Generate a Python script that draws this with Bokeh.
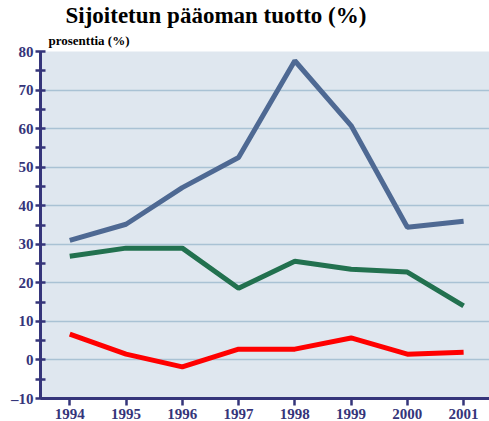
from bokeh.plotting import figure
from bokeh.models import Title, Range1d, FixedTicker
from bokeh.embed import file_html
from bokeh.resources import INLINE

years = [1994, 1995, 1996, 1997, 1998, 1999, 2000, 2001]
series_blue = [31.0, 35.2, 44.7, 52.5, 77.6, 60.8, 34.4, 36.0]
series_green = [26.9, 29.0, 29.0, 18.6, 25.6, 23.5, 22.8, 14.0]
series_red = [6.7, 1.5, -1.8, 2.8, 2.8, 5.7, 1.5, 2.0]
y_ticks = [-10, 0, 10, 20, 30, 40, 50, 60, 70, 80]

NAVY = "#35357a"
FONT = "Times New Roman"

p = figure(width=489, height=421, output_backend="svg", toolbar_location=None,
           x_range=Range1d(1993.48, 2001.46), y_range=Range1d(-10, 80),
           min_border_left=40, min_border_right=0, min_border_top=0, min_border_bottom=22)
p.outline_line_color = None
p.background_fill_color = "#dfe7ef"
p.border_fill_color = "white"

p.line(years, series_blue, line_color="#4e6993", line_width=5)
p.line(years, series_green, line_color="#22714f", line_width=5)
p.line(years, series_red, line_color="#ff0000", line_width=5)

p.xgrid.grid_line_color = None
p.ygrid.grid_line_color = "#a9c2d4"
p.ygrid.grid_line_width = 1.5
p.ygrid.ticker = FixedTicker(ticks=y_ticks)

p.yaxis.ticker = FixedTicker(ticks=y_ticks, minor_ticks=[-5, 5, 15, 25, 35, 45, 55, 65, 75])
p.xaxis.ticker = FixedTicker(ticks=years)

for ax in (p.xaxis[0], p.yaxis[0]):
    ax.axis_line_color = NAVY
    ax.axis_line_width = 3
    ax.major_tick_line_color = NAVY
    ax.major_tick_line_width = 2.5
    ax.minor_tick_line_color = NAVY
    ax.minor_tick_line_width = 2.5
    ax.major_label_text_font = FONT
    ax.major_label_text_font_style = "bold"
    ax.major_label_text_font_size = "15px"
    ax.major_label_text_color = NAVY

p.yaxis.major_tick_in = 5
p.yaxis.major_tick_out = 5
p.yaxis.minor_tick_in = 5
p.yaxis.minor_tick_out = 5
p.yaxis.major_label_standoff = 2
p.yaxis.major_label_overrides = {-10: "\u201310"}
p.xaxis.major_tick_in = 0
p.xaxis.major_tick_out = 7
p.xaxis.minor_tick_line_color = None
p.xaxis.major_label_standoff = 3

p.title = None
p.add_layout(Title(text="prosenttia (%)", text_font=FONT, text_font_style="bold",
                   text_font_size="13px", text_color="black", align="left",
                   offset=8, standoff=7), "above")
p.add_layout(Title(text="Sijoitetun pääoman tuotto (%)", text_font=FONT,
                   text_font_style="bold", text_font_size="23px", text_color="black",
                   align="left", offset=25, standoff=0), "above")

open("out.html", "w").write(file_html(p, INLINE))
